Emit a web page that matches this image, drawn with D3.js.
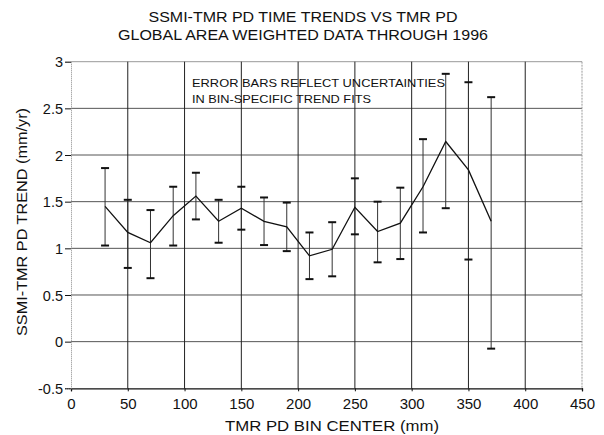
<!DOCTYPE html>
<html><head><meta charset="utf-8">
<script src="https://cdn.jsdelivr.net/npm/d3@7"></script>
<style>body{margin:0;background:#fff}svg{display:block}text{font-family:"Liberation Sans",Arial,sans-serif;fill:#111}</style>
</head><body>
<svg id="c" width="604" height="435"></svg>
<script>
const binCenters = [30,50,70,90,110,130,150,170,190,210,230,250,270,290,310,330,350,370];
const trend      = [1.45,1.17,1.06,1.35,1.56,1.29,1.43,1.29,1.23,0.92,0.99,1.44,1.18,1.27,1.66,2.145,1.84,1.29];
const upper      = [1.86,1.52,1.41,1.66,1.81,1.52,1.66,1.545,1.49,1.17,1.28,1.75,1.50,1.65,2.17,2.87,2.78,2.62];
const lower      = [1.03,0.79,0.68,1.03,1.31,1.06,1.20,1.035,0.97,0.67,0.70,1.15,0.85,0.885,1.17,1.43,0.88,-0.075];
const xTicks = [0,50,100,150,200,250,300,350,400,450];
const yTicks = [-0.5,0,0.5,1,1.5,2,2.5,3];
const yTickLabels = ["-0.5","0","0.5","1","1.5","2","2.5","3"];
const titleLines = ["SSMI-TMR PD TIME TRENDS VS TMR PD","GLOBAL AREA WEIGHTED DATA THROUGH 1996"];
const noteLines = ["ERROR BARS REFLECT UNCERTAINTIES","IN BIN-SPECIFIC TREND FITS"];

const svg = d3.select("#c");
const L=71, R=582, T=61.7, B=388.3;
const x = d3.scaleLinear().domain([0,450]).range([L,R]);
const y = d3.scaleLinear().domain([-0.5,3]).range([B,T]);

// horizontal grid
svg.append("g").selectAll("line").data(yTicks.filter(v=>v>-0.5)).join("line")
  .attr("x1",L).attr("x2",R).attr("y1",d=>y(d)).attr("y2",d=>y(d))
  .attr("stroke",d=>d===3?"#999":"#555").attr("stroke-width",1);
// vertical grid
svg.append("g").selectAll("line").data(xTicks.filter(v=>v>0)).join("line")
  .attr("x1",d=>x(d)).attr("x2",d=>x(d)).attr("y1",T).attr("y2",B)
  .attr("stroke",d=>d===450?"#999":"#222").attr("stroke-width",1)
  .attr("stroke-dasharray",d=>d===450?"2,1":null);

// axes
const xa = svg.append("g").attr("transform",`translate(0,${B})`)
  .call(d3.axisBottom(x).tickValues(xTicks).tickSize(3).tickFormat(d3.format("d")));
const ya = svg.append("g").attr("transform",`translate(${L},0)`)
  .call(d3.axisLeft(y).tickValues(yTicks).tickSize(6).tickPadding(2).tickFormat((d,i)=>yTickLabels[i]));
xa.select(".domain").attr("stroke","#111").attr("stroke-width",1.3);
ya.select(".domain").attr("stroke","#888").attr("stroke-width",1).attr("stroke-dasharray","1,1");
[xa,ya].forEach(a=>{
  a.selectAll(".tick line").attr("stroke","#111");
  a.selectAll("text").style("font-family","'Liberation Sans',Arial,sans-serif").attr("fill","#111");});
xa.selectAll("text").attr("font-size",15).attr("y",21).attr("dy",0);
ya.selectAll("text").attr("font-size",14.5).attr("dy","0.36em");

// error bars
const eb = svg.append("g");
eb.selectAll("line.v").data(binCenters).join("line").attr("class","v")
  .attr("x1",d=>x(d)).attr("x2",d=>x(d))
  .attr("y1",(d,i)=>y(upper[i])).attr("y2",(d,i)=>y(lower[i]))
  .attr("stroke","#333").attr("stroke-width",1);
eb.selectAll("line.u").data(binCenters).join("line").attr("class","u")
  .attr("x1",d=>x(d)-4).attr("x2",d=>x(d)+4)
  .attr("y1",(d,i)=>y(upper[i])).attr("y2",(d,i)=>y(upper[i]))
  .attr("stroke","#111").attr("stroke-width",2);
eb.selectAll("line.l").data(binCenters).join("line").attr("class","l")
  .attr("x1",d=>x(d)-4).attr("x2",d=>x(d)+4)
  .attr("y1",(d,i)=>y(lower[i])).attr("y2",(d,i)=>y(lower[i]))
  .attr("stroke","#111").attr("stroke-width",2);

// trend line
svg.append("path").datum(binCenters)
  .attr("d",d3.line().x(d=>x(d)).y((d,i)=>y(trend[i])))
  .attr("fill","none").attr("stroke","#111").attr("stroke-width",1.3);

// titles
const tl = [{t:titleLines[0],y:22,w:309},{t:titleLines[1],y:40,w:370}];
svg.append("g").selectAll("text").data(tl).join("text")
  .attr("x",303).attr("y",d=>d.y).attr("text-anchor","middle").attr("font-size",14.5)
  .attr("textLength",d=>d.w).attr("lengthAdjust","spacingAndGlyphs").text(d=>d.t);

// note
const nl=[{t:noteLines[0],y:87,w:253},{t:noteLines[1],y:102.5,w:179}];
svg.append("g").selectAll("text").data(nl).join("text")
  .attr("x",192).attr("y",d=>d.y).attr("font-size",11.5)
  .attr("textLength",d=>d.w).attr("lengthAdjust","spacingAndGlyphs").text(d=>d.t);

// axis labels
svg.append("text").attr("x",332).attr("y",431).attr("text-anchor","middle").attr("font-size",15)
  .attr("textLength",214).attr("lengthAdjust","spacingAndGlyphs").text("TMR PD BIN CENTER (mm)");
svg.append("text").attr("transform","translate(27,222) rotate(-90)").attr("text-anchor","middle").attr("font-size",15)
  .attr("textLength",228).attr("lengthAdjust","spacingAndGlyphs").text("SSMI-TMR PD TREND (mm/yr)");
</script>
</body></html>
